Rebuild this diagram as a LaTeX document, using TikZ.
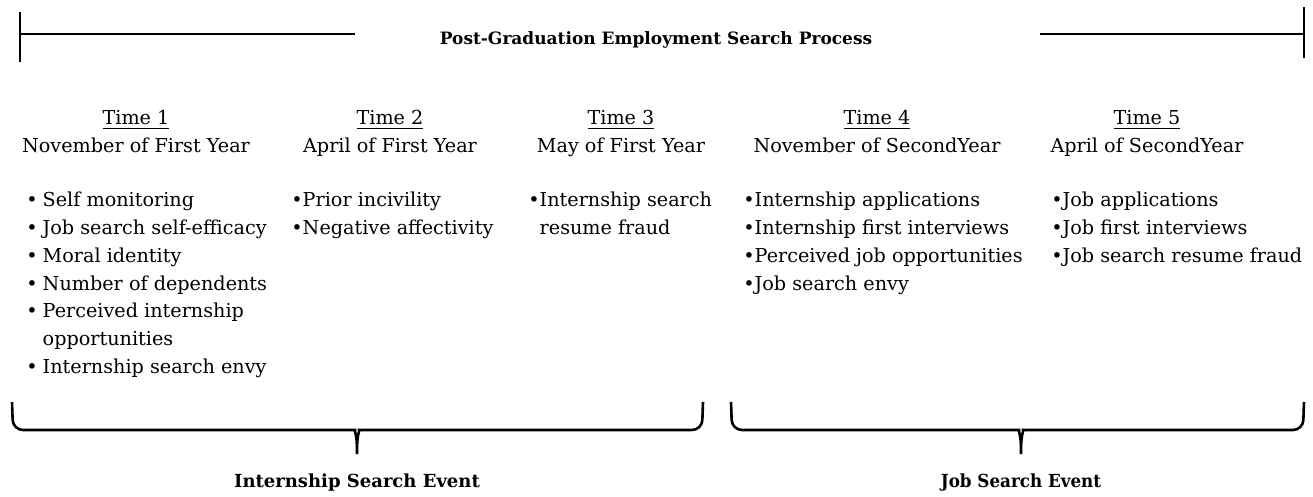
\documentclass[tikz,border=0pt]{standalone}
\usepackage{fontspec}
\setmainfont{DejaVu Serif}
\newcommand{\bul}{\textbullet}
\newcommand{\bs}{\textbullet\hspace{2.5pt}}
\begin{document}
\begin{tikzpicture}[x=0.5pt,y=-0.5pt,
  rule/.style={line width=1.3pt,black},
  hdr/.style={inner sep=0pt,anchor=base,font=\fontsize{9.6pt}{13.85pt}\selectfont},
  lst/.style={inner sep=0pt,anchor=north west,align=left,font=\fontsize{9.6pt}{13.85pt}\selectfont},
  ttl/.style={inner sep=0pt,font=\bfseries\fontsize{8.5pt}{10pt}\selectfont},
  evt/.style={inner sep=0pt,font=\bfseries\fontsize{9pt}{10pt}\selectfont}]
\useasboundingbox (0,0) rectangle (1313,497);
% top timeline
\node[ttl] (title) at (656,40) {Post-Graduation Employment Search Process};
\coordinate (lt) at (20,12); \coordinate (lb) at (20,62);
\coordinate (lm) at (20,34); \coordinate (le) at (355,34);
\coordinate (rt) at (1304,7); \coordinate (rb) at (1304,58);
\coordinate (rm) at (1304,34); \coordinate (rs) at (1040,34);
\draw[rule] (lt) -- (lb); \draw[rule] (lm) -- (le);
\draw[rule] (rt) -- (rb); \draw[rule] (rs) -- (rm);
% headers
\node[hdr] (t1) at (136,125) {\underline{Time 1}};
\node[hdr] (m1) at (136,153) {November of First Year};
\node[hdr] (t2) at (390,125) {\underline{Time 2}};
\node[hdr] (m2) at (390,153) {April of First Year};
\node[hdr] (t3) at (621,125) {\underline{Time 3}};
\node[hdr] (m3) at (621,153) {May of First Year};
\node[hdr] (t4) at (877,125) {\underline{Time 4}};
\node[hdr] (m4) at (877,153) {November of SecondYear};
\node[hdr] (t5) at (1147,125) {\underline{Time 5}};
\node[hdr] (m5) at (1147,153) {April of SecondYear};
% lists
\node[lst] (l1) at (26,192) {\bs Self monitoring\\ \bs Job search self-efficacy\\ \bs Moral identity\\ \bs Number of dependents\\ \bs Perceived internship\\ \phantom{\bs}opportunities\\ \bs Internship search envy};
\node[lst] (l2) at (291,192) {\bul Prior incivility\\ \bul Negative affectivity};
\node[lst] (l3) at (528,192) {\bul Internship search\\ \phantom{\bul}resume fraud};
\node[lst] (l4) at (743,192) {\bul Internship applications\\ \bul Internship first interviews\\ \bul Perceived job opportunities\\ \bul Job search envy};
\node[lst] (l5) at (1051,192) {\bul Job applications\\ \bul Job first interviews\\ \bul Job search resume fraud};
% braces
\draw[rule,rounded corners=5pt] (12,402) -- (13,430) -- (345,430)
  .. controls (354,430) and (357,434) .. (357,460)
  .. controls (357,434) and (360,430) .. (369,430) -- (702,430) -- (703,402);
\draw[rule,rounded corners=5pt] (731,402) -- (732,430) -- (1009,430)
  .. controls (1018,430) and (1021,434) .. (1021,460)
  .. controls (1021,434) and (1024,430) .. (1033,430) -- (1303,430) -- (1304,402);
\node[evt] (ev1) at (357,483) {Internship Search Event};
\node[evt] (ev2) at (1021,483) {\scalebox{0.93}[1]{Job Search Event}};
\end{tikzpicture}
\end{document}
